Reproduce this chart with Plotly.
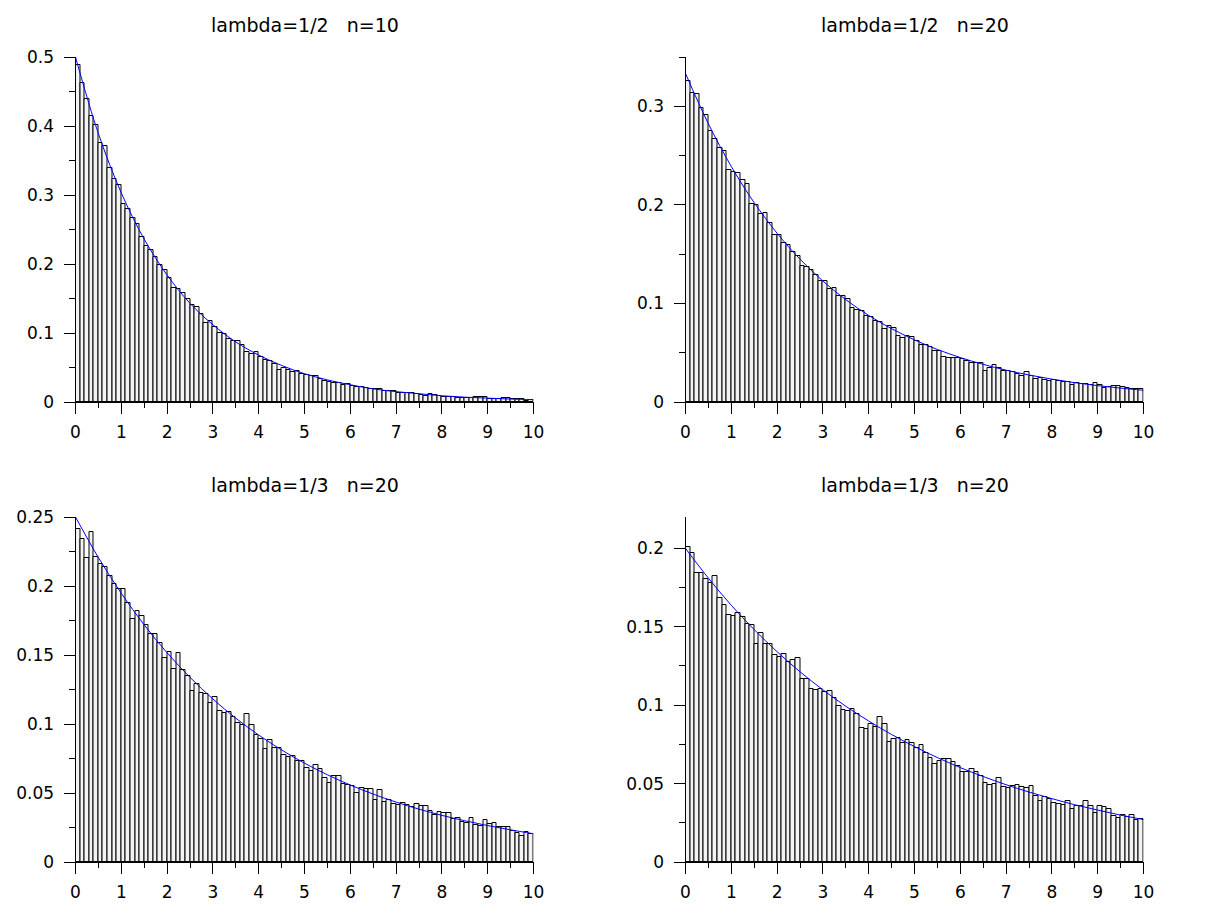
import numpy as np
import plotly.graph_objects as go

# ---- data ----
bin_width = 0.1
n_bins = 100
bin_centers = np.round(np.arange(n_bins) * bin_width + bin_width / 2, 3)

titles = ["lambda=1/2   n=10", "lambda=1/2   n=20", "lambda=1/3   n=20", "lambda=1/3   n=20"]

hist_tl = [0.489, 0.462, 0.439, 0.414, 0.401, 0.375, 0.371, 0.339, 0.323, 0.314,
           0.287, 0.279, 0.266, 0.258, 0.239, 0.226, 0.221, 0.210, 0.199, 0.191,
           0.180, 0.165, 0.164, 0.158, 0.149, 0.141, 0.138, 0.128, 0.115, 0.118,
           0.109, 0.100, 0.099, 0.092, 0.088, 0.088, 0.082, 0.072, 0.069, 0.073,
           0.065, 0.061, 0.059, 0.055, 0.047, 0.049, 0.047, 0.043, 0.045, 0.040,
           0.0397, 0.038, 0.037, 0.033, 0.031, 0.029, 0.028, 0.0276, 0.025, 0.026,
           0.0237, 0.022, 0.0218, 0.0198, 0.0189, 0.0184, 0.0184, 0.0164, 0.0155, 0.0155,
           0.013, 0.013, 0.0126, 0.0126, 0.011, 0.010, 0.0087, 0.011, 0.0097, 0.0092,
           0.0073, 0.0073, 0.0077, 0.0063, 0.0058, 0.0053, 0.0058, 0.0068, 0.0068, 0.0068,
           0.0048, 0.0048, 0.0048, 0.0058, 0.0058, 0.0044, 0.0039, 0.0039, 0.0020, 0.0024]

hist_tr = [0.326, 0.313, 0.312, 0.298, 0.291, 0.275, 0.267, 0.258, 0.255, 0.235,
           0.233, 0.232, 0.225, 0.221, 0.201, 0.200, 0.191, 0.192, 0.182, 0.169,
           0.169, 0.161, 0.159, 0.152, 0.148, 0.138, 0.137, 0.134, 0.129, 0.123,
           0.123, 0.115, 0.116, 0.108, 0.108, 0.105, 0.095, 0.093, 0.092, 0.087,
           0.086, 0.082, 0.081, 0.074, 0.077, 0.075, 0.067, 0.065, 0.067, 0.066,
           0.0617, 0.058, 0.0577, 0.0557, 0.0513, 0.0517, 0.0453, 0.0443, 0.0443, 0.0443,
           0.0433, 0.0416, 0.040, 0.040, 0.040, 0.0312, 0.0346, 0.0372, 0.0342, 0.0315,
           0.0315, 0.0309, 0.0289, 0.0265, 0.0302, 0.0265, 0.0235, 0.0248, 0.0225, 0.0211,
           0.0225, 0.0215, 0.0208, 0.0201, 0.0171, 0.0188, 0.0178, 0.0178, 0.0168, 0.0191,
           0.0168, 0.0144, 0.0154, 0.0161, 0.0161, 0.0151, 0.0141, 0.0131, 0.0131, 0.0131]

hist_bl = [0.241, 0.234, 0.2205, 0.239, 0.221, 0.216, 0.214, 0.2075, 0.2017, 0.198,
           0.198, 0.1877, 0.176, 0.182, 0.178, 0.172, 0.1655, 0.1655, 0.159, 0.148,
           0.152, 0.140, 0.1517, 0.139, 0.1345, 0.124, 0.129, 0.1227, 0.1215, 0.1155,
           0.1196, 0.1097, 0.1077, 0.109, 0.105, 0.101, 0.0995, 0.1075, 0.0995, 0.092,
           0.0889, 0.0816, 0.0882, 0.0829, 0.0824, 0.0778, 0.0761, 0.0768, 0.0734, 0.0734,
           0.068, 0.0662, 0.0703, 0.0674, 0.0609, 0.0572, 0.0623, 0.0623, 0.0565, 0.056,
           0.0551, 0.050, 0.0536, 0.0529, 0.0529, 0.0449, 0.0524, 0.0435, 0.0452, 0.042,
           0.0413, 0.0428, 0.0411, 0.0399, 0.042, 0.0406, 0.0406, 0.037, 0.0341, 0.0362,
           0.0355, 0.0355, 0.0312, 0.0319, 0.0287, 0.0283, 0.0319, 0.0271, 0.0261, 0.0304,
           0.0275, 0.0283, 0.0254, 0.0254, 0.0254, 0.0225, 0.021, 0.0188, 0.0215, 0.0203]

hist_br = [0.201, 0.1968, 0.1843, 0.1843, 0.1805, 0.178, 0.1824, 0.1684, 0.1639, 0.1575,
           0.1569, 0.159, 0.1563, 0.1518, 0.1512, 0.139, 0.1459, 0.139, 0.139, 0.132,
           0.1308, 0.1327, 0.1278, 0.1289, 0.1301, 0.1168, 0.1168, 0.1102, 0.1098, 0.1104,
           0.1085, 0.1091, 0.1047, 0.0996, 0.097, 0.0964, 0.0977, 0.0945, 0.0856, 0.0849,
           0.0881, 0.0864, 0.0926, 0.0881, 0.0766, 0.0786, 0.0792, 0.076, 0.0775, 0.076,
           0.0726, 0.0745, 0.0696, 0.0662, 0.0624, 0.0643, 0.0656, 0.0656, 0.0639, 0.0611,
           0.0573, 0.0575, 0.0592, 0.0573, 0.055, 0.0503, 0.049, 0.0497, 0.0535, 0.0478,
           0.0471, 0.0482, 0.049, 0.0476, 0.0469, 0.0484, 0.0423, 0.0389, 0.0412, 0.0403,
           0.0376, 0.0369, 0.0363, 0.0389, 0.0338, 0.0359, 0.0357, 0.0389, 0.0357, 0.0312,
           0.0357, 0.035, 0.034, 0.0293, 0.028, 0.0299, 0.0287, 0.0299, 0.0268, 0.0272]

curve_x = [0, 0.5, 1, 1.5, 2, 2.5, 3, 3.5, 4, 4.5, 5, 5.5, 6, 6.5, 7, 7.5, 8, 8.5, 9, 9.5, 10]
curve_tl = [0.5, 0.389, 0.303, 0.236, 0.184, 0.143, 0.112, 0.087, 0.068, 0.053, 0.041,
            0.032, 0.025, 0.019, 0.015, 0.012, 0.009, 0.007, 0.0056, 0.0043, 0.0034]
curve_tr = [0.3333, 0.2822, 0.2389, 0.2022, 0.1712, 0.1449, 0.1227, 0.1038, 0.0879, 0.0744, 0.0630,
            0.0533, 0.0451, 0.0382, 0.0323, 0.0274, 0.0232, 0.0196, 0.0166, 0.0141, 0.0119]
curve_bl = [0.25, 0.2206, 0.1947, 0.1718, 0.1516, 0.1338, 0.1181, 0.1042, 0.0920, 0.0812, 0.0716,
            0.0632, 0.0558, 0.0492, 0.0434, 0.0383, 0.0338, 0.0299, 0.0264, 0.0233, 0.0205]
curve_br = [0.2, 0.181, 0.1637, 0.1482, 0.1341, 0.1213, 0.1098, 0.0993, 0.0899, 0.0813, 0.0736,
            0.0666, 0.0602, 0.0545, 0.0493, 0.0446, 0.0404, 0.0365, 0.0331, 0.0299, 0.0271]

y_max = [0.5, 0.35, 0.25, 0.22]
y_dtick = [0.1, 0.1, 0.05, 0.05]
x_ticks = list(range(0, 11))

# ---- layout geometry (pixels in a 1220 x 920 page) ----
W, H = 1220, 920
col_px = [(75.5, 533.5), (685.5, 1143.5)]
row_px = [(57, 402), (517, 862)]

panels = [
    (hist_tl, curve_tl, 0, 0),
    (hist_tr, curve_tr, 0, 1),
    (hist_bl, curve_bl, 1, 0),
    (hist_br, curve_br, 1, 1),
]

fig = go.Figure()
font = dict(family="DejaVu Sans", size=17, color="black")
annotations = []

for i, (hist, curve, r, c) in enumerate(panels):
    ax = "" if i == 0 else str(i + 1)
    xref, yref = "x" + ax, "y" + ax
    fig.add_trace(go.Bar(
        x=bin_centers, y=hist, width=bin_width,
        marker=dict(color="#f3f3f3", line=dict(color="black", width=1)),
        xaxis=xref, yaxis=yref, showlegend=False, hoverinfo="skip"))
    fig.add_trace(go.Scatter(
        x=curve_x, y=curve, mode="lines",
        line=dict(color="#0000ff", width=1, shape="spline"),
        xaxis=xref, yaxis=yref, showlegend=False, hoverinfo="skip"))

    x0, x1 = col_px[c]
    y0, y1 = row_px[r]
    xdom = [x0 / W, x1 / W]
    ydom = [1 - y1 / H, 1 - y0 / H]
    fig.layout["xaxis" + ax] = dict(
        domain=xdom, anchor=yref, range=[0, 10], tickvals=x_ticks,
        ticks="outside", ticklen=11, tickwidth=1, tickcolor="black",
        minor=dict(dtick=0.5, tick0=0, ticks="outside", ticklen=5, tickwidth=1, tickcolor="black"),
        showline=True, linecolor="black", linewidth=1, showgrid=False, zeroline=False,
        tickfont=font, ticklabelstandoff=4, automargin=False)
    fig.layout["yaxis" + ax] = dict(
        domain=ydom, anchor=xref, range=[0, y_max[i]], dtick=y_dtick[i], tick0=0,
        ticks="outside", ticklen=11, tickwidth=1, tickcolor="black",
        minor=dict(dtick=y_dtick[i] / 2, tick0=0, ticks="outside", ticklen=6, tickwidth=1, tickcolor="black"),
        showline=True, linecolor="black", linewidth=1, showgrid=False, zeroline=False,
        tickfont=font, ticklabelstandoff=6, automargin=False)
    annotations.append(dict(
        text=titles[i].replace(" ", "\u00a0"), xref="paper", yref="paper",
        x=(x0 + x1) / 2 / W, y=1 - (y0 - 32) / H, xanchor="center", yanchor="middle",
        showarrow=False, font=dict(family="DejaVu Sans", size=19, color="black")))

fig.update_layout(
    width=W, height=H, margin=dict(l=0, r=0, t=0, b=0),
    paper_bgcolor="white", plot_bgcolor="white",
    bargap=0, barmode="overlay", annotations=annotations)

fig.write_html("out.html", config={"displayModeBar": False},
               post_script="document.body.style.margin='0px';document.body.style.overflow='hidden';")
